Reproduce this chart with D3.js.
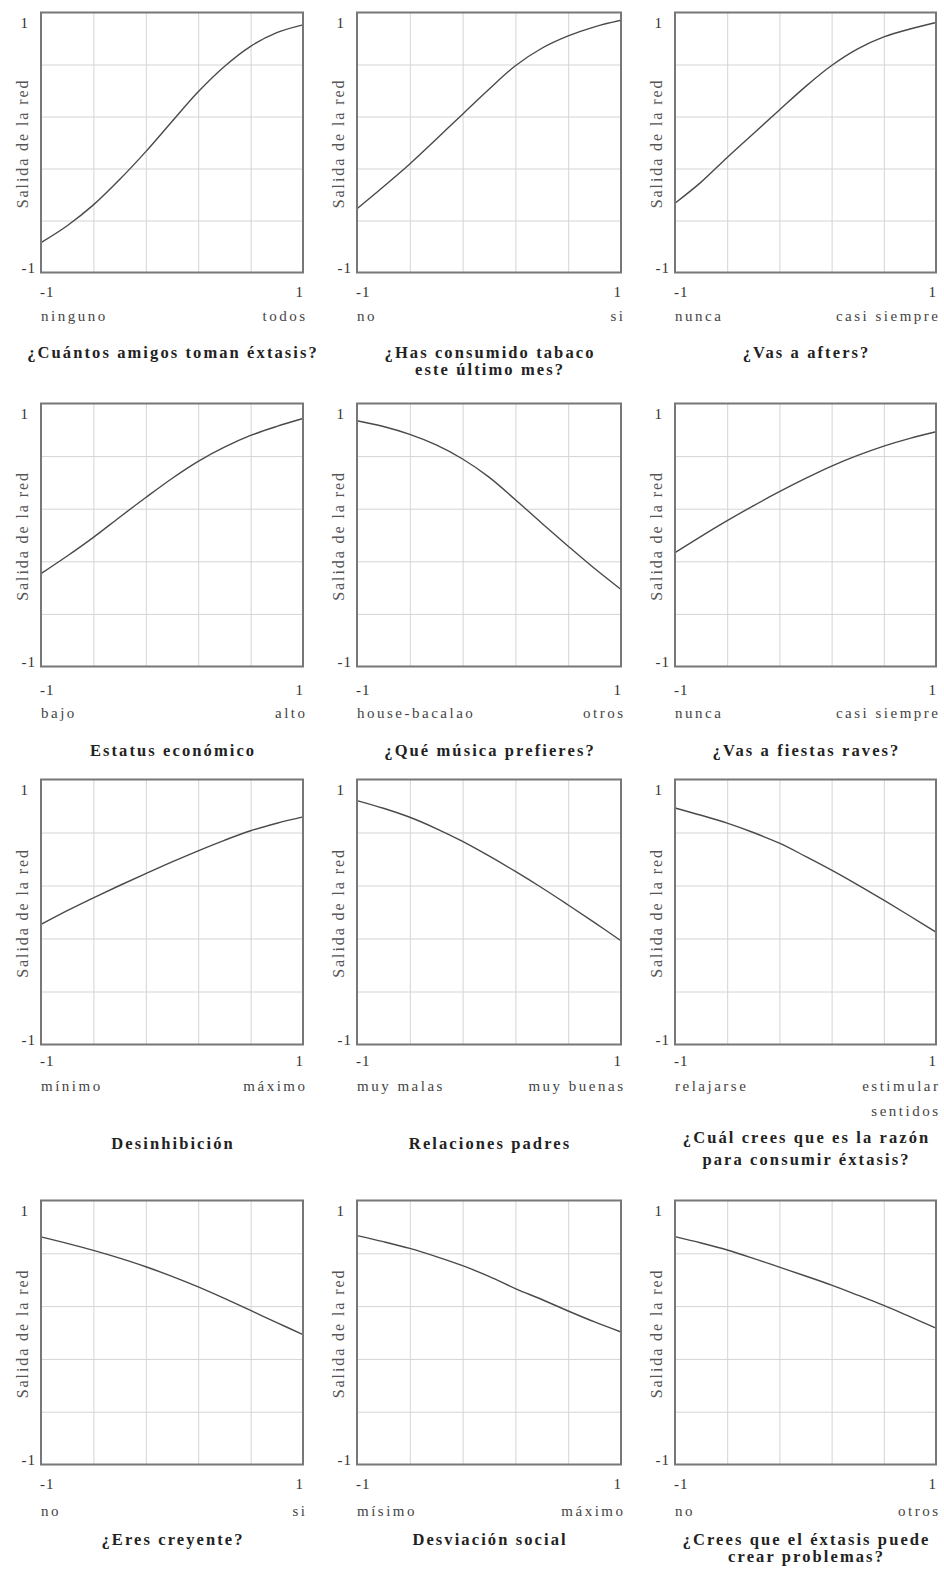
<!DOCTYPE html>
<html>
<head>
<meta charset="utf-8">
<script src="https://cdn.jsdelivr.net/npm/d3@7"></script>
<style>
  html, body { margin: 0; padding: 0; background: #fff; }
  svg { display: block; }
  text { font-family: "Liberation Serif", "Times New Roman", serif; fill: #333; }
  .title { font-weight: bold; font-size: 16.5px; letter-spacing: 2.1px; fill: #222; }
  .tick-label { font-size: 15px; letter-spacing: 1px; }
  .cat-label { font-size: 15px; letter-spacing: 2.5px; fill: #444; }
  .y-title { font-size: 16px; letter-spacing: 1.9px; fill: #555; }
</style>
</head>
<body>
<svg id="chart" width="944" height="1569"></svg>
<script>
// Network input level swept from -1 to 1 for each variable
const inputLevels = [-1, -0.8, -0.6, -0.4, -0.2, 0, 0.2, 0.4, 0.6, 0.8, 1];

// Panel titles (one entry per line)
const panelTitles = [
  ["¿Cuántos amigos toman éxtasis?"],
  ["¿Has consumido tabaco", "este último mes?"],
  ["¿Vas a afters?"],
  ["Estatus económico"],
  ["¿Qué música prefieres?"],
  ["¿Vas a fiestas raves?"],
  ["Desinhibición"],
  ["Relaciones padres"],
  ["¿Cuál crees que es la razón", "para consumir éxtasis?"],
  ["¿Eres creyente?"],
  ["Desviación social"],
  ["¿Crees que el éxtasis puede", "crear problemas?"]
];

// Meaning of the input at -1 and at 1
const lowLabels = [
  ["ninguno"], ["no"], ["nunca"],
  ["bajo"], ["house-bacalao"], ["nunca"],
  ["mínimo"], ["muy malas"], ["relajarse"],
  ["no"], ["mísimo"], ["no"]
];
const highLabels = [
  ["todos"], ["si"], ["casi siempre"],
  ["alto"], ["otros"], ["casi siempre"],
  ["máximo"], ["muy buenas"], ["estimular", "sentidos"],
  ["si"], ["máximo"], ["otros"]
];

// Network output for each panel at the input levels above
const outAmigos      = [-0.77, -0.64, -0.48, -0.285, -0.07, 0.162, 0.39, 0.585, 0.74, 0.845, 0.905];
const outTabaco      = [-0.51, -0.34, -0.165, 0.025, 0.218, 0.41, 0.59, 0.725, 0.82, 0.89, 0.94];
const outAfters      = [-0.467, -0.305, -0.115, 0.068, 0.25, 0.43, 0.592, 0.72, 0.812, 0.873, 0.923];
const outEstatus     = [-0.294, -0.16, -0.018, 0.135, 0.285, 0.43, 0.56, 0.668, 0.757, 0.826, 0.886];
const outMusica      = [0.869, 0.825, 0.765, 0.685, 0.578, 0.44, 0.268, 0.09, -0.085, -0.255, -0.414];
const outRaves       = [-0.134, -0.01, 0.109, 0.222, 0.329, 0.43, 0.524, 0.605, 0.676, 0.735, 0.785];
const outDesinhib    = [-0.094, 0.01, 0.107, 0.2, 0.29, 0.378, 0.462, 0.541, 0.613, 0.67, 0.718];
const outPadres      = [0.841, 0.783, 0.715, 0.63, 0.533, 0.423, 0.306, 0.183, 0.053, -0.08, -0.217];
const outRazon       = [0.785, 0.73, 0.671, 0.6, 0.519, 0.42, 0.316, 0.205, 0.089, -0.03, -0.152];
const outCreyente    = [0.724, 0.675, 0.622, 0.563, 0.498, 0.425, 0.345, 0.258, 0.167, 0.075, -0.016];
const outDesviacion  = [0.734, 0.688, 0.637, 0.575, 0.506, 0.425, 0.333, 0.25, 0.163, 0.08, 0.004];
const outProblemas   = [0.726, 0.678, 0.625, 0.562, 0.495, 0.428, 0.359, 0.283, 0.205, 0.12, 0.033];

const panelSeries = [
  outAmigos, outTabaco, outAfters,
  outEstatus, outMusica, outRaves,
  outDesinhib, outPadres, outRazon,
  outCreyente, outDesviacion, outProblemas
];

const gridValues = [-0.6, -0.2, 0.2, 0.6];
const yAxisTitle = "Salida de la red";

// Grid layout of the 4 x 3 panels
const colLeft = [41, 357, 675];
const colWidth = [262, 264, 261];
const rowTop = [12.5, 403.5, 779.5, 1200.5];
const rowHeight = [260, 263, 265, 264];
const tickDy = [19, 23, 16, 19];
const catDy = [43, 46, 41, 46];
const catGap = [17, 17, 25, 17];
const titleDy = [80, 84, 99, 75];
const titleGap = [17, 17, 22, 17];

const svg = d3.select("#chart");

// letter-spacing adds trailing space; shift anchored text to compensate
function spacingOf(cls) {
  return { "title": 2.1, "tick-label": 1, "cat-label": 2.5, "y-title": 1.9 }[cls];
}

panelSeries.forEach((values, i) => {
  const r = Math.floor(i / 3), c = i % 3;
  const left = colLeft[c], top = rowTop[r];
  const w = colWidth[c], h = rowHeight[r];

  const x = d3.scaleLinear().domain([-1, 1]).range([0, w]);
  const y = d3.scaleLinear().domain([-1, 1]).range([h, 0]);

  const g = svg.append("g").attr("transform", `translate(${left},${top})`);

  // light grid
  g.append("g")
    .call(d3.axisBottom(x).tickValues(gridValues).tickSize(h).tickFormat(""))
    .call(s => s.select(".domain").remove())
    .call(s => s.selectAll("line").attr("stroke", "#d4d4d4").attr("stroke-width", 1));
  g.append("g")
    .call(d3.axisRight(y).tickValues(gridValues).tickSize(w).tickFormat(""))
    .call(s => s.select(".domain").remove())
    .call(s => s.selectAll("line").attr("stroke", "#d4d4d4").attr("stroke-width", 1));

  // response curve
  const line = d3.line()
    .x((d, k) => x(inputLevels[k]))
    .y(d => y(d))
    .curve(d3.curveCatmullRom.alpha(0.5));
  g.append("path")
    .datum(values)
    .attr("d", line)
    .attr("fill", "none")
    .attr("stroke", "#4a4a4a")
    .attr("stroke-width", 1.4);

  // frame
  g.append("rect")
    .attr("x", 0).attr("y", 0).attr("width", w).attr("height", h)
    .attr("fill", "none").attr("stroke", "#777").attr("stroke-width", 2);

  // y tick labels
  g.append("text").attr("class", "tick-label")
    .attr("x", x(-1) - 12).attr("y", y(1) + 10)
    .attr("text-anchor", "end").attr("dominant-baseline", "central").text("1");
  g.append("text").attr("class", "tick-label")
    .attr("x", x(-1) - 5).attr("y", y(-1) - 5)
    .attr("text-anchor", "end").attr("dominant-baseline", "central").text("-1");

  // y axis title
  g.append("text").attr("class", "y-title")
    .attr("transform", `translate(${-19},${y(0) + spacingOf("y-title") / 2}) rotate(-90)`)
    .attr("text-anchor", "middle").attr("dominant-baseline", "central")
    .text(yAxisTitle);

  // x tick labels
  g.append("text").attr("class", "tick-label")
    .attr("x", x(-1) - 1).attr("y", h + tickDy[r])
    .attr("text-anchor", "start").attr("dominant-baseline", "central").text("-1");
  g.append("text").attr("class", "tick-label")
    .attr("x", x(1) + 1).attr("y", h + tickDy[r])
    .attr("text-anchor", "end").attr("dominant-baseline", "central").text("1");

  // meaning of the extremes
  lowLabels[i].forEach((t, k) => {
    g.append("text").attr("class", "cat-label")
      .attr("x", x(-1)).attr("y", h + catDy[r] + k * catGap[r])
      .attr("text-anchor", "start").attr("dominant-baseline", "central").text(t);
  });
  highLabels[i].forEach((t, k) => {
    g.append("text").attr("class", "cat-label")
      .attr("x", x(1) + 2 + spacingOf("cat-label")).attr("y", h + catDy[r] + k * catGap[r])
      .attr("text-anchor", "end").attr("dominant-baseline", "central").text(t);
  });

  // panel title
  const titleStart = panelTitles[i].length > 1 && r === 2 ? titleDy[r] - 6 : titleDy[r];
  panelTitles[i].forEach((t, k) => {
    g.append("text").attr("class", "title")
      .attr("x", w / 2 + spacingOf("title") / 2).attr("y", h + titleStart + k * titleGap[r])
      .attr("text-anchor", "middle").attr("dominant-baseline", "central").text(t);
  });
});
</script>
</body>
</html>
